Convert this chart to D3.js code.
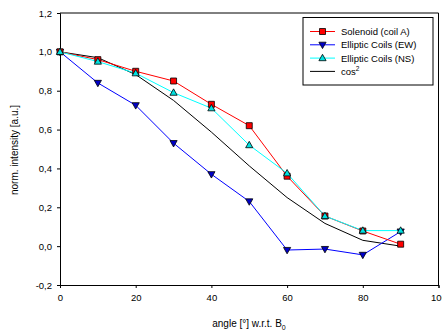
<!DOCTYPE html>
<html>
<head>
<meta charset="utf-8">
<script src="https://cdn.jsdelivr.net/npm/d3@7"></script>
<style>
  body { margin: 0; background: #fff; }
  svg { font-family: "Liberation Sans", Arial, sans-serif; }
</style>
</head>
<body>
<div id="graph"></div>
<script>
// angles in degrees
const angles = [0, 10, 20, 30, 40, 50, 60, 70, 80, 90];
// normalised intensities
const solenoid = [1.00, 0.96, 0.90, 0.85, 0.73, 0.62, 0.36, 0.155, 0.078, 0.01];
const ellipticEW = [1.00, 0.84, 0.725, 0.53, 0.37, 0.23, -0.02, -0.015, -0.045, 0.075];
const ellipticNS = [1.00, 0.95, 0.89, 0.79, 0.71, 0.52, 0.375, 0.155, 0.08, 0.08];
const cos2 = [1.00, 0.97, 0.883, 0.75, 0.587, 0.413, 0.25, 0.117, 0.03, 0.0];
const xTicks = [0, 20, 40, 60, 80, 100];
const yTicks = [-0.2, 0.0, 0.2, 0.4, 0.6, 0.8, 1.0, 1.2];

const width = 442, height = 331;
const margin = {left: 60, top: 13, right: 3, bottom: 46};

const svg = d3.select("#graph").append("svg")
  .attr("width", width)
  .attr("height", height);

const x = d3.scaleLinear().domain([0, 100]).range([margin.left, width - margin.right - 0.5]);
const y = d3.scaleLinear().domain([-0.2, 1.2]).range([height - margin.bottom, margin.top]);

const fmt = d => d3.format(".1f")(d).replace(".", ",").replace("−", "-");

// frame (top + right)
svg.append("path")
  .attr("d", "M" + x(0) + "," + y(1.2) + "H" + x(100) + "V" + y(-0.2))
  .attr("fill", "none").attr("stroke", "#000").attr("stroke-width", 1);

// x axis
const xAxis = svg.append("g")
  .attr("transform", "translate(0," + y(-0.2) + ")")
  .call(d3.axisBottom(x).tickValues(xTicks).tickSize(3).tickPadding(6));
xAxis.selectAll("text").style("font-size", "9.5px").attr("fill", "#000");

// y axis
const yAxis = svg.append("g")
  .attr("transform", "translate(" + x(0) + ",0)")
  .call(d3.axisLeft(y).tickValues(yTicks).tickSize(3).tickFormat(fmt).tickPadding(5));
yAxis.selectAll("text").style("font-size", "9.5px").attr("fill", "#000");
svg.selectAll(".domain").attr("stroke", "#000");

// axis titles
const xt = svg.append("text")
  .attr("x", 249).attr("y", 327)
  .attr("text-anchor", "middle")
  .style("font-size", "10px");
xt.append("tspan").text("angle [°] w.r.t. B");
xt.append("tspan").attr("dy", 3).style("font-size", "7px").text("0");

svg.append("text")
  .attr("transform", "translate(18,150)rotate(-90)")
  .attr("text-anchor", "middle")
  .style("font-size", "10px")
  .text("norm. intensity [a.u.]");

const line = d3.line().x((d, i) => x(angles[i])).y(d => y(d));

const series = [
  {name: "Solenoid (coil A)", values: solenoid, color: "#ff0000", fill: "#ff0000", marker: "square"},
  {name: "Elliptic Coils (EW)", values: ellipticEW, color: "#0000ff", fill: "#0000c8", marker: "down"},
  {name: "Elliptic Coils (NS)", values: ellipticNS, color: "#00ffff", fill: "#00e0e0", marker: "up"},
  {name: "cos", values: cos2, color: "#000000", marker: null}
];

function markerPath(type) {
  if (type === "square") return "M-3,-3H3V3H-3Z";
  if (type === "up") return "M0,-3.8L3.6,2.6L-3.6,2.6Z";
  if (type === "down") return "M0,3.8L3.6,-2.6L-3.6,-2.6Z";
  return null;
}

// cos2 first, NS on top (as in the reference)
const drawOrder = [3, 1, 0, 2];
drawOrder.forEach(k => {
  const s = series[k];
  svg.append("path")
    .datum(s.values)
    .attr("d", line)
    .attr("fill", "none")
    .attr("stroke", s.color)
    .attr("stroke-width", 1);
});
drawOrder.forEach(k => {
  const s = series[k];
  if (!s.marker) return;
  svg.selectAll(null)
    .data(s.values)
    .enter()
    .append("path")
    .attr("d", markerPath(s.marker))
    .attr("transform", (d, i) => "translate(" + x(angles[i]) + "," + y(d) + ")")
    .attr("fill", s.fill)
    .attr("stroke", "#000")
    .attr("stroke-width", 0.8);
});

// legend
const lg = svg.append("g").attr("transform", "translate(303,17.5)");
lg.append("rect")
  .attr("width", 130).attr("height", 67.5)
  .attr("fill", "#fff").attr("stroke", "#000").attr("stroke-width", 1);
series.forEach((s, i) => {
  const cy = 14 + i * 13.3;
  lg.append("line")
    .attr("x1", 7).attr("x2", 32).attr("y1", cy).attr("y2", cy)
    .attr("stroke", s.color).attr("stroke-width", 1);
  if (s.marker) {
    lg.append("path")
      .attr("d", markerPath(s.marker))
      .attr("transform", "translate(19.5," + cy + ")")
      .attr("fill", s.fill).attr("stroke", "#000").attr("stroke-width", 0.8);
  }
  const t = lg.append("text")
    .attr("x", 38).attr("y", cy + 3.5)
    .style("font-size", "9.5px");
  t.append("tspan").text(s.name);
  if (s.name === "cos") {
    t.append("tspan").attr("dy", -4).style("font-size", "6.5px").text("2");
  }
});
</script>
</body>
</html>
